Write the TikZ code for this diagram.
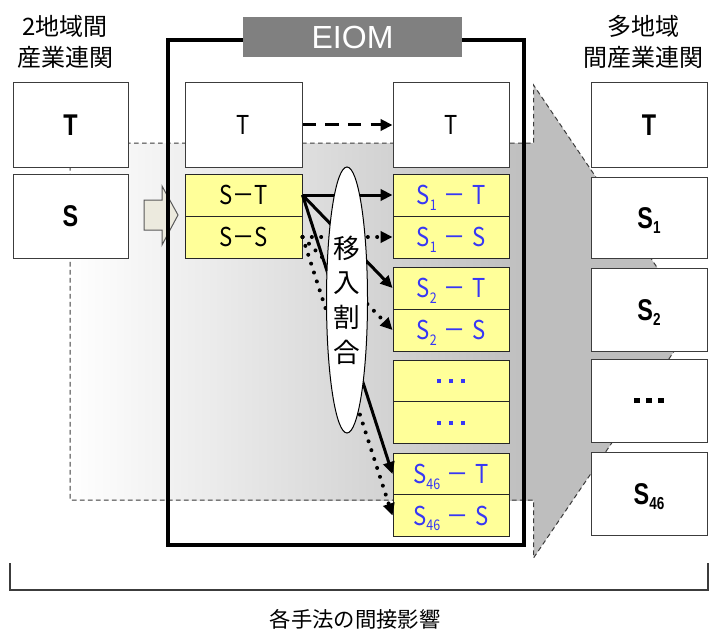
\documentclass[tikz,border=0pt]{standalone}
\usepackage{fontspec}
\setmainfont{Noto Sans CJK JP}
\newfontfamily\cond[FakeStretch=0.85]{Noto Sans CJK JP}
\newfontfamily\latb[FakeStretch=0.78]{Liberation Sans}
\newfontfamily\lat{Liberation Sans}
\usetikzlibrary{shapes.geometric,arrows.meta}
\definecolor{boxline}{RGB}{60,60,60}
\definecolor{yel}{RGB}{255,255,153}
\definecolor{bluetxt}{RGB}{55,55,245}
\definecolor{arrgray}{RGB}{190,190,190}
\definecolor{titlegray}{RGB}{128,128,128}
\definecolor{beige}{RGB}{236,234,222}
\newcommand\mysub[1]{\raisebox{-0.4ex}{\fontsize{11}{11}\selectfont #1}}
\newcommand\mybsub[1]{\raisebox{-0.35ex}{\fontsize{13}{13}\selectfont #1}}
\newcommand\bdots{\rule{3pt}{3pt}\hspace{6pt}\rule{3pt}{3pt}\hspace{6pt}\rule{3pt}{3pt}}
\newcommand\kdots{\rule{4pt}{4pt}\hspace{5pt}\rule{4pt}{4pt}\hspace{5pt}\rule{4pt}{4pt}}
\begin{document}
\begin{tikzpicture}[x=0.75pt,y=-0.75pt,
  obox/.style={draw=boxline, line width=0.75pt, fill=white, minimum width=86.25pt, inner sep=0pt,
    text height=16pt, text depth=0pt, font=\latb\bfseries\fontsize{22.5}{22.5}\selectfont},
  ibox/.style={draw=boxline, line width=0.75pt, fill=white, minimum width=87pt, inner sep=0pt,
    text height=14.3pt, text depth=0pt, font=\cond\fontsize{19.5}{19.5}\selectfont},
  ybox/.style={ibox, fill=yel, draw=black!85, minimum height=31.5pt},
  bbox/.style={ybox, text=bluetxt},
  conn/.style={line width=2.25pt, -{Triangle[length=9pt,width=8.5pt]}},
  dotconn/.style={conn, line width=3pt, dash pattern=on 0pt off 7pt, line cap=round},
  dashconn/.style={conn, dash pattern=on 10pt off 7pt},
]
\useasboundingbox (0,0) rectangle (709,631);
\fill[white] (0,0) rectangle (709,631);

% big gradient arrow
\shade[left color=white, right color=arrgray] (70,143) rectangle (533.5,500);
\fill[arrgray] (533.5,85) -- (694,322) -- (533.5,558) -- cycle;
\draw[boxline, line width=0.75pt, dash pattern=on 3.5pt off 2.5pt]
  (70,143) -- (533.5,143) -- (533.5,85) -- (694,322) -- (533.5,558) -- (533.5,500) -- (70,500) -- cycle;

% block arrow
\draw[draw=gray!70!black, fill=beige, line width=0.75pt]
  (144,200) -- (162,200) -- (162,186) -- (178,215) -- (162,245) -- (162,230) -- (144,230) -- cycle;

% EIOM frame
\draw[line width=3pt] (168,40) rectangle (524,545);

% headers
\node[align=center, font=\fontsize{18}{23.25}\selectfont] (hl) at (65,41.5) {2地域間\\産業連関};
\node[align=center, font=\fontsize{18}{23.25}\selectfont] (hr) at (643.5,41.5) {多地域\\間産業連関};

% left column
\node[obox, minimum height=63pt] (lt) at (70.5,125) {T};
\node[obox, minimum height=63pt] (ls) at (70.5,216) {S};

% inner left
\node[ibox, minimum height=63pt, minimum width=87.75pt] (it) at (243.5,125) {T};
\node[ybox, minimum width=87.75pt] (st) at (243.5,195) {S－T};
\node[ybox, minimum width=87.75pt] (ss) at (243.5,237) {S－S};

% inner right
\node[ibox, minimum height=63pt] (rt) at (451,125) {T};
\node[bbox] (s1t) at (451,195) {S\mysub{1}\hspace{5pt}－\hspace{5pt}T};
\node[bbox] (s1s) at (451,237) {S\mysub{1}\hspace{5pt}－\hspace{5pt}S};
\node[bbox] (s2t) at (451,288) {S\mysub{2}\hspace{5pt}－\hspace{5pt}T};
\node[bbox] (s2s) at (451,330) {S\mysub{2}\hspace{5pt}－\hspace{5pt}S};
\node[bbox, text height=3pt] (d1) at (451,381) {\bdots};
\node[bbox, text height=3pt] (d2) at (451,422.5) {\bdots};
\node[bbox] (s46t) at (451,474) {S\mysub{46}\hspace{5pt}－\hspace{5pt}T};
\node[bbox] (s46s) at (451,515.5) {S\mysub{46}\hspace{5pt}－\hspace{5pt}S};

% right column
\node[obox, minimum width=87pt, minimum height=63pt] (ort) at (649,125) {T};
\node[obox, minimum width=87pt, minimum height=60.75pt] (os1) at (649,217.5) {S\mybsub{1}};
\node[obox, minimum width=87pt, minimum height=62.25pt] (os2) at (649,309.5) {S\mybsub{2}};
\node[obox, minimum width=87pt, minimum height=62.25pt, text height=4pt] (od) at (649,400.5) {\kdots};
\node[obox, minimum width=87pt, minimum height=62.25pt] (os46) at (649,493.5) {S\mybsub{46}};

% connectors
\draw[dashconn] (it.east) -- (rt.west);
\draw[conn] (st.east) -- (s1t.west);
\draw[conn] (st.east) -- (s2t.west);
\draw[conn] (st.east) -- (s46t.west);
\draw[dotconn] (ss.east) -- (s1s.west);
\draw[dotconn] (ss.east) -- (s2s.west);
\draw[dotconn] (ss.east) -- (s46s.west);

% ellipse
\node[ellipse, draw=black, line width=0.75pt, fill=white, minimum width=30.75pt, minimum height=199.5pt,
  inner sep=0pt, align=center, font=\fontsize{20}{26}\selectfont] (el) at (347,300) {移\\入\\割\\合};

% title
\node[fill=titlegray, minimum width=164.25pt, minimum height=30pt, inner sep=0pt, text=white,
  font=\lat\fontsize{24}{24}\selectfont] (title) at (352.5,37) {EIOM};

% bottom bracket
\draw[boxline, line width=1pt] (10,563) -- (10,590) -- (708,590) -- (708,563);
\node[font=\fontsize{16}{16}\selectfont] (foot) at (355,619) {各手法の間接影響};
\end{tikzpicture}
\end{document}
